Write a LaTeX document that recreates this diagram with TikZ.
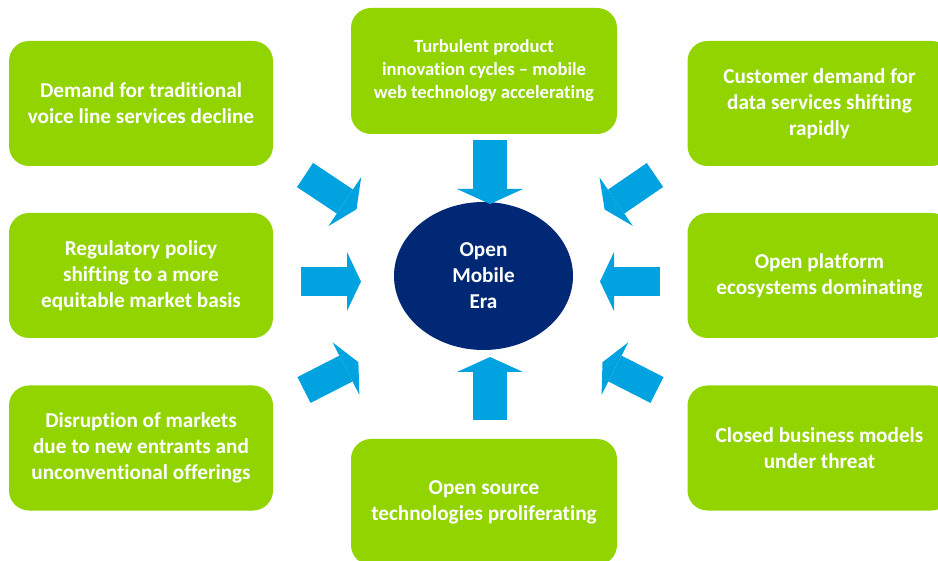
\documentclass[tikz,border=0pt]{standalone}
\usepackage{fontspec}
\setmainfont[Ligatures=NoCommon]{Carlito}
\usetikzlibrary{arrows.meta, shapes.geometric}
\definecolor{leafgreen}{RGB}{146,212,0}
\definecolor{arrowblue}{RGB}{0,163,224}
\definecolor{eranavy}{RGB}{0,40,116}

\begin{document}
\begin{tikzpicture}[x=1pt, y=-1pt,
    driver/.style={fill=leafgreen, rounded corners=20pt, minimum width=264pt,
        minimum height=125pt, inner sep=0pt, align=center, text=white,
        font=\bfseries\fontsize{21.2}{26}\selectfont},
    hub/.style={ellipse, fill=eranavy, minimum width=179pt, minimum height=148pt,
        inner sep=0pt, align=center, text=white,
        font=\bfseries\fontsize{21.2}{26}\selectfont},
    push/.style={draw=arrowblue, line width=29pt,
        -{Triangle[length=14pt, width=59pt, line width=0pt]}},
    pushwide/.style={draw=arrowblue, line width=34pt,
        -{Triangle[length=15pt, width=66pt, line width=0pt]}}]
    \useasboundingbox (0,0) rectangle (938,561);

    % Central ellipse
    \node[hub] (era) at (483.5,276) {Open\\Mobile\\Era};

    % Driver boxes, left column
    \node[driver] (voice) at (141,103.5) {Demand for traditional\\voice line services decline};
    \node[driver] (policy) at (141,275.5) {Regulatory policy\\shifting to a more\\equitable market basis};
    \node[driver] (entrants) at (141,448) {Disruption of markets\\due to new entrants and\\unconventional offerings};

    % Driver boxes, right column
    \node[driver] (data) at (819.5,103.5) {Customer demand for\\data services shifting\\rapidly};
    \node[driver] (platform) at (819.5,275.5) {Open platform\\ecosystems dominating};
    \node[driver] (closed) at (819.5,448) {Closed business models\\under threat};

    % Driver boxes, top and bottom
    \node[driver, minimum width=266pt, minimum height=126pt,
        font=\bfseries\fontsize{18.6}{23}\selectfont] (cycles) at (484,71)
        {Turbulent product\\innovation cycles – mobile\\web technology accelerating};
    \node[driver, minimum width=266pt, minimum height=126pt] (source) at (484,502)
        {Open source\\technologies proliferating};

    % Arrow ends
    \coordinate (cycles-tail) at (490,140);
    \coordinate (cycles-tip) at (490,204);
    \coordinate (source-tail) at (490,420);
    \coordinate (source-tip) at (490,357);
    \coordinate (policy-tail) at (301,281.5);
    \coordinate (policy-tip) at (361,281.5);
    \coordinate (platform-tail) at (660,281.5);
    \coordinate (platform-tip) at (600,281.5);
    \coordinate (voice-tail) at (305,175);
    \coordinate (voice-tip) at (356.5,209.3);
    \coordinate (entrants-tail) at (304,390);
    \coordinate (entrants-tip) at (358.4,362.2);
    \coordinate (data-tail) at (655,175);
    \coordinate (data-tip) at (604.6,209.5);
    \coordinate (closed-tail) at (657,390);
    \coordinate (closed-tip) at (602.5,362.2);

    % Block arrows pointing to the centre
    \draw[pushwide] (cycles-tail) -- (cycles-tip);
    \draw[pushwide] (source-tail) -- (source-tip);
    \foreach \d in {policy, platform, voice, entrants, data, closed} {
        \draw[push] (\d-tail) -- (\d-tip);
    }
\end{tikzpicture}
\end{document}
